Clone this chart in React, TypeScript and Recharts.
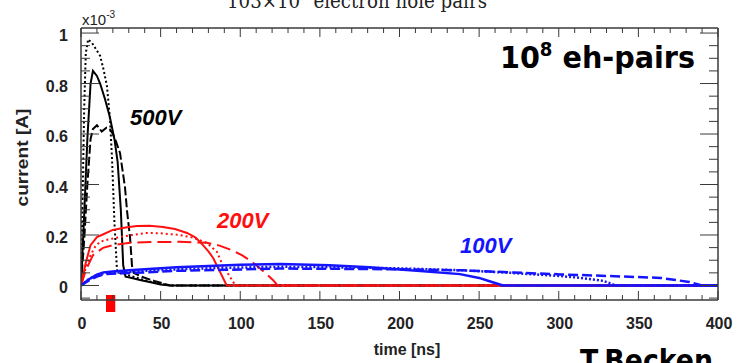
import { LineChart, Line, XAxis, YAxis, ReferenceArea } from "recharts"

// 500V (black)
const B_SOLID_T = [0, 2, 4, 6, 7.5, 10, 12, 15, 18, 21, 23, 25, 26.5, 28, 32, 37, 43, 50, 56, 400]
const B_SOLID_V = [0, 0.28, 0.58, 0.8, 0.85, 0.83, 0.8, 0.74, 0.67, 0.58, 0.49, 0.3, 0.08, 0.035, 0.03, 0.022, 0.014, 0.004, 0, 0]
const B_DOT_T = [0, 1, 2, 3, 4.5, 7, 10, 12, 14, 16.3, 18.2, 19.5, 21, 22.6, 24, 30, 38, 47, 56, 400]
const B_DOT_V = [0, 0.35, 0.7, 0.92, 0.975, 0.96, 0.93, 0.91, 0.86, 0.79, 0.66, 0.5, 0.25, 0.06, 0.05, 0.04, 0.025, 0.01, 0, 0]
const B_DASH_T = [0, 2, 4, 6, 7.5, 10, 13, 16, 18, 20, 22, 24.5, 26, 27.6, 29, 30.8, 32, 33, 38, 46, 56, 400]
const B_DASH_V = [0, 0.18, 0.4, 0.58, 0.62, 0.635, 0.61, 0.625, 0.62, 0.6, 0.57, 0.525, 0.46, 0.39, 0.29, 0.19, 0.08, 0.05, 0.035, 0.018, 0, 0]

// 200V (red)
const R_SOLID_T = [0, 3, 6, 10, 13, 20, 28, 35, 43, 51.5, 59, 66.6, 72, 76.6, 80, 83, 87.3, 91.5, 400]
const R_SOLID_V = [0, 0.09, 0.16, 0.192, 0.2, 0.22, 0.23, 0.236, 0.237, 0.232, 0.224, 0.208, 0.19, 0.16, 0.135, 0.109, 0.054, 0, 0]
const R_DOT_T = [0, 3, 6, 9, 11.9, 17, 24.5, 32, 41, 50, 62, 70, 79, 85.4, 89, 93.6, 97, 400]
const R_DOT_V = [0, 0.07, 0.12, 0.155, 0.173, 0.182, 0.192, 0.2, 0.208, 0.207, 0.2, 0.19, 0.169, 0.133, 0.08, 0.034, 0, 0]
const R_DASH_T = [0, 3, 7.5, 13.8, 20, 30.8, 45, 62, 72, 79, 87, 95.4, 101, 106, 111, 116, 120.5, 123.5, 400]
const R_DASH_V = [0, 0.06, 0.12, 0.149, 0.16, 0.169, 0.172, 0.173, 0.171, 0.169, 0.158, 0.138, 0.12, 0.1, 0.075, 0.048, 0.022, 0, 0]

// 100V (blue)
const U_SOLID_T = [0, 5, 10, 14, 20, 30, 60, 100, 125, 156, 181, 213, 238, 250, 258, 265, 400]
const U_SOLID_V = [0, 0.025, 0.043, 0.052, 0.055, 0.06, 0.072, 0.082, 0.085, 0.08, 0.072, 0.057, 0.045, 0.03, 0.014, 0, 0]
const U_DOT_T = [0, 5, 10, 15, 25, 40, 60, 90, 125, 160, 200, 240, 270, 300, 314, 328, 336, 400]
const U_DOT_V = [0, 0.025, 0.042, 0.05, 0.052, 0.058, 0.064, 0.07, 0.074, 0.072, 0.068, 0.06, 0.05, 0.038, 0.03, 0.018, 0, 0]
const U_DASH_T = [0, 5, 10, 15, 25, 40, 60, 90, 125, 160, 200, 240, 270, 301, 330, 364, 382, 390, 400]
const U_DASH_V = [0, 0.02, 0.035, 0.045, 0.048, 0.052, 0.058, 0.062, 0.067, 0.066, 0.064, 0.06, 0.052, 0.044, 0.038, 0.03, 0.014, 0, 0]

// axes
const X_LABELS = [0, 50, 100, 150, 200, 250, 300, 350, 400]
const Y_LABELS = [0, 0.2, 0.4, 0.6, 0.8, 1]
const X_TICKS = Array.from({ length: 41 }, (_, i) => i * 10)
const Y_TICKS = Array.from({ length: 22 }, (_, i) => Math.round((i * 0.05 - 0.05) * 100) / 100)

const MARKER_T = [15.7, 21.5]
const MARKER_V = [-0.038, -0.105]

const toRows = (t: number[], v: number[]) => t.map((x, i) => ({ t: x, v: v[i] }))

const SERIES = [
  { key: "b-solid", data: toRows(B_SOLID_T, B_SOLID_V), color: "#000", dash: undefined, w: 2 },
  { key: "b-dot", data: toRows(B_DOT_T, B_DOT_V), color: "#000", dash: "2 2.5", w: 2 },
  { key: "b-dash", data: toRows(B_DASH_T, B_DASH_V), color: "#000", dash: "9 3", w: 2 },
  { key: "r-solid", data: toRows(R_SOLID_T, R_SOLID_V), color: "#ff1010", dash: undefined, w: 2 },
  { key: "r-dot", data: toRows(R_DOT_T, R_DOT_V), color: "#ff1010", dash: "2 3", w: 2 },
  { key: "r-dash", data: toRows(R_DASH_T, R_DASH_V), color: "#ff1010", dash: "14 6", w: 2 },
  { key: "u-solid", data: toRows(U_SOLID_T, U_SOLID_V), color: "#1414ff", dash: undefined, w: 2.5 },
  { key: "u-dot", data: toRows(U_DOT_T, U_DOT_V), color: "#1414ff", dash: "2 2", w: 2.5 },
  { key: "u-dash", data: toRows(U_DASH_T, U_DASH_V), color: "#1414ff", dash: "10 4", w: 2.5 },
]

const FRAME = "#3a3a3a"
const SANS = "'Liberation Sans', Arial, sans-serif"
const ROUND = "'DejaVu Sans', sans-serif"

const isMajorX = (v: number) => X_LABELS.includes(v)
const isMajorY = (v: number) => Y_LABELS.some(l => Math.abs(l - v) < 1e-6)

// ticks drawn inward, ROOT style
const BottomTick = ({ x, y, payload }: any) => {
  const major = isMajorX(payload.value)
  return (
    <g>
      <line x1={x} x2={x} y1={y} y2={y - (major ? 9 : 5)} stroke={FRAME} strokeWidth={1} />
      {major && (
        <text x={x + 1} y={y + 29} textAnchor="middle" fontFamily={SANS} fontWeight="bold" fontSize={16} fill="#222">
          {payload.value}
        </text>
      )}
    </g>
  )
}
const TopTick = ({ x, y, payload }: any) => {
  const major = isMajorX(payload.value)
  return <line x1={x} x2={x} y1={y} y2={y + (major ? 9 : 5)} stroke={FRAME} strokeWidth={1} />
}
const LeftTick = ({ x, y, payload }: any) => {
  const major = isMajorY(payload.value)
  return (
    <g>
      <line x1={x} x2={x + (major ? 18 : 9)} y1={y} y2={y} stroke={FRAME} strokeWidth={1} />
      {major && (
        <text x={x - 13} y={y + 8} textAnchor="end" fontFamily={SANS} fontWeight="bold" fontSize={16} fill="#222">
          {String(payload.value)}
        </text>
      )}
    </g>
  )
}
const RightTick = ({ x, y, payload }: any) => {
  const major = isMajorY(payload.value)
  return <line x1={x} x2={x - (major ? 18 : 9)} y1={y} y2={y} stroke={FRAME} strokeWidth={1} />
}

export default function App() {
  return (
    <div style={{ position: "absolute", left: 0, top: 0, width: 740, height: 363, background: "#fff", overflow: "hidden" }}>
      <LineChart width={740} height={363} margin={{ top: 18, right: 12, bottom: 33, left: 41 }}>
        <XAxis dataKey="t" type="number" domain={[0, 400]} ticks={X_TICKS} interval={0} allowDataOverflow
          height={30} tickSize={0} tickMargin={0} tick={BottomTick} axisLine={{ stroke: FRAME, strokeWidth: 1.5 }} />
        <XAxis xAxisId="top" orientation="top" dataKey="t" type="number" domain={[0, 400]} ticks={X_TICKS} interval={0}
          allowDataOverflow height={10} tickSize={0} tickMargin={0} tick={TopTick} axisLine={{ stroke: FRAME, strokeWidth: 1.5 }} />
        <YAxis type="number" domain={[-0.0575, 1.02]} ticks={Y_TICKS} interval={0} allowDataOverflow
          width={40} tickSize={0} tickMargin={0} tick={LeftTick} axisLine={{ stroke: FRAME, strokeWidth: 1.5 }} />
        <YAxis yAxisId="right" orientation="right" type="number" domain={[-0.0575, 1.02]} ticks={Y_TICKS} interval={0}
          allowDataOverflow width={10} tickSize={0} tickMargin={0} tick={RightTick} axisLine={{ stroke: FRAME, strokeWidth: 1.5 }} />

        {SERIES.map(s => (
          <Line
            key={s.key}
            data={s.data}
            dataKey="v"
            type="linear"
            stroke={s.color}
            strokeWidth={s.w}
            strokeDasharray={s.dash}
            dot={false}
            activeDot={false}
            isAnimationActive={false}
          />
        ))}

        <ReferenceArea x1={MARKER_T[0]} x2={MARKER_T[1]} y1={MARKER_V[0]} y2={MARKER_V[1]}
          fill="#ff0000" fillOpacity={1} stroke="none" ifOverflow="visible" />
      </LineChart>

      <svg width={740} height={363} style={{ position: "absolute", left: 0, top: 0, pointerEvents: "none" }}>
        <text x={227} y={8} fontFamily="'DejaVu Serif', serif" fontSize={20} fill="#222" textLength={260} lengthAdjust="spacingAndGlyphs">
          103×10<tspan dy={-9} fontSize={13}>6</tspan><tspan dy={9}> electron hole pairs</tspan>
        </text>
        <text x={82} y={25} fontFamily={SANS} fontSize={15} fill="#222">
          x10<tspan dy={-7} fontSize={10}>-3</tspan>
        </text>
        <text x={500} y={68} fontFamily={ROUND} fontWeight="bold" fontSize={30} fill="#000" textLength={195} lengthAdjust="spacingAndGlyphs">
          10<tspan dy={-12} fontSize={19}>8</tspan><tspan dy={12}> eh-pairs</tspan>
        </text>
        <text x={130} y={125} fontFamily={SANS} fontWeight="bold" fontStyle="italic" fontSize={22} fill="#000">500V</text>
        <text x={217} y={228} fontFamily={SANS} fontWeight="bold" fontStyle="italic" fontSize={22} fill="#ff1010">200V</text>
        <text x={460} y={253} fontFamily={SANS} fontWeight="bold" fontStyle="italic" fontSize={22} fill="#1414ff">100V</text>
        <text transform="translate(28,157.5) rotate(-90)" textAnchor="middle" fontFamily={SANS} fontWeight="bold" fontSize={16}
          fill="#222" textLength={98} lengthAdjust="spacingAndGlyphs">current [A]</text>
        <text x={407} y={355} textAnchor="middle" fontFamily={SANS} fontWeight="bold" fontSize={16} fill="#222">time [ns]</text>
        <text x={580} y={371} fontFamily={ROUND} fontWeight="bold" fontSize={30} fill="#000" textLength={133} lengthAdjust="spacingAndGlyphs">T.Becken</text>
      </svg>
    </div>
  )
}
